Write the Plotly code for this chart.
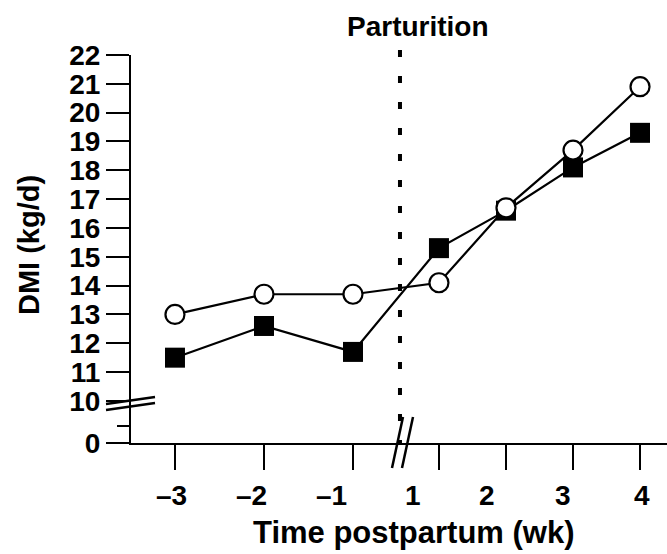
import plotly.graph_objects as go

# ---------------- data ----------------
weeks = [-3, -2, -1, 1, 2, 3, 4]
week_labels = ["\u20133", "\u20132", "\u20131", "1", "2", "3", "4"]
dmi_open = [13.0, 13.7, 13.7, 14.1, 16.7, 18.7, 20.9]
dmi_filled = [11.5, 12.6, 11.7, 15.3, 16.6, 18.1, 19.3]
y_ticks = [0] + list(range(10, 23))
y_tick_labels = [str(v) for v in y_ticks]
y_minor_ticks = [5]

# ---------------- broken-axis scales ----------------
X_POST_START = -0.034      # axis position of week 1 (after the break)
X_POST_STEP = 0.753        # axis units per week after parturition
X_BREAK = -0.472           # position of the axis break / parturition
Y_LOW_BASE = 8.54          # axis position of 0 kg/d (below the break)
Y_LOW_STEP = 0.118         # axis units per kg/d below the break


def xpos(w):
    return w if w < 0 else X_POST_START + (w - 1) * X_POST_STEP


def ypos(v):
    return v if v >= 10 else Y_LOW_BASE + v * Y_LOW_STEP


xs = [xpos(w) for w in weeks]
FONT = "Liberation Sans, Arial, Helvetica, sans-serif"
W, H = 667, 554
ML, MR, MT, MB = 131, 0, 55, 111
PW, PH = W - ML - MR, H - MT - MB
X_RANGE = [-3.494, 2.528]
Y_RANGE = [Y_LOW_BASE, 22.0]


def px_to_paper_x(px):
    return (px - ML) / PW


def px_to_paper_y(py):
    return (H - MB - py) / PH


fig = go.Figure()
fig.add_trace(go.Scatter(
    x=xs, y=[ypos(v) for v in dmi_filled], mode="lines+markers",
    line=dict(color="black", width=2.2),
    marker=dict(symbol="square", size=20, color="black"),
    showlegend=False, cliponaxis=False))
fig.add_trace(go.Scatter(
    x=xs, y=[ypos(v) for v in dmi_open], mode="lines+markers",
    line=dict(color="black", width=2.2),
    marker=dict(symbol="circle", size=19, color="white",
                line=dict(color="black", width=2.2)),
    showlegend=False, cliponaxis=False))

shapes = []
# parturition dotted line
shapes.append(dict(type="line", xref="x", yref="paper", x0=X_BREAK, x1=X_BREAK,
                   y0=px_to_paper_y(50), y1=0,
                   line=dict(color="black", width=4, dash="7px,19px")))
# x-axis break marks
for dx in (0, 10):
    shapes.append(dict(type="line", xref="paper", yref="paper",
                       x0=px_to_paper_x(392 + dx), y0=px_to_paper_y(468),
                       x1=px_to_paper_x(403 + dx), y1=px_to_paper_y(417),
                       line=dict(color="black", width=2.5)))
# y-axis break marks
for dy in (0, 6):
    shapes.append(dict(type="line", xref="paper", yref="paper",
                       x0=px_to_paper_x(106), y0=px_to_paper_y(404 + dy),
                       x1=px_to_paper_x(155), y1=px_to_paper_y(397 + dy),
                       line=dict(color="black", width=2.5)))

annotations = []
label_shifts = [-3, -12, -21, -26, -19, -10, 2]
for x, lab, sh in zip(xs, week_labels, label_shifts):
    annotations.append(dict(x=x, y=0, xref="x", yref="paper", text=lab,
                            showarrow=False, xanchor="center", yanchor="middle",
                            xshift=sh, yshift=-52,
                            font=dict(family=FONT, size=28, color="black", weight="bold")))
annotations.append(dict(x=px_to_paper_x(414), y=px_to_paper_y(532), xref="paper", yref="paper",
                        text="Time postpartum (wk)", showarrow=False,
                        xanchor="center", yanchor="middle",
                        font=dict(family=FONT, size=31, color="black", weight="bold")))
annotations.append(dict(x=px_to_paper_x(29), y=px_to_paper_y(245), xref="paper", yref="paper",
                        text="DMI (kg/d)", showarrow=False, textangle=-90,
                        xanchor="center", yanchor="middle",
                        font=dict(family=FONT, size=29, color="black", weight="bold")))
annotations.append(dict(x=px_to_paper_x(418), y=px_to_paper_y(26), xref="paper", yref="paper",
                        text="Parturition", showarrow=False,
                        xanchor="center", yanchor="middle",
                        font=dict(family=FONT, size=28, color="black", weight="bold")))

fig.update_layout(
    width=W, height=H,
    margin=dict(l=ML, r=MR, t=MT, b=MB, pad=0),
    paper_bgcolor="white", plot_bgcolor="white",
    shapes=shapes, annotations=annotations,
    xaxis=dict(range=X_RANGE, showgrid=False, zeroline=False,
               showline=True, linecolor="black", linewidth=2,
               ticks="outside", ticklen=25, tickwidth=2, tickcolor="black",
               tickvals=xs, showticklabels=False, automargin=False, fixedrange=True),
    yaxis=dict(range=Y_RANGE, showgrid=False, zeroline=False,
               showline=True, linecolor="black", linewidth=2,
               ticks="outside", ticklen=23, tickwidth=2, tickcolor="black",
               tickvals=[ypos(v) for v in y_ticks], ticktext=y_tick_labels,
               tickfont=dict(family=FONT, size=28, color="black", weight="bold"),
               minor=dict(tickvals=[ypos(v) for v in y_minor_ticks], ticks="outside",
                          ticklen=12, tickwidth=2, tickcolor="black"),
               automargin=False, fixedrange=True),
)

fig.write_html("out.html")
